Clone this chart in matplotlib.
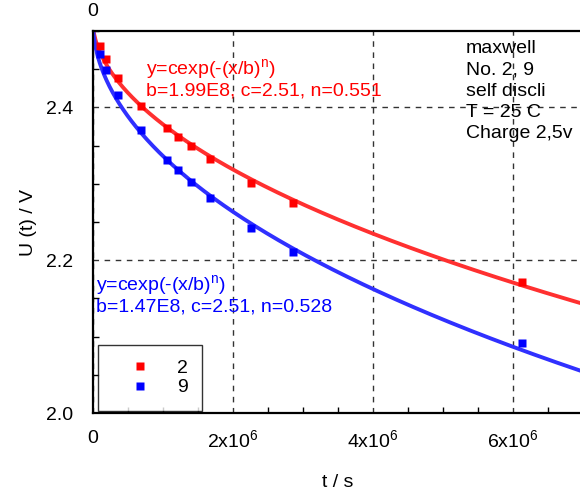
import numpy as np
import matplotlib
matplotlib.use('Agg')
import matplotlib.pyplot as plt
from matplotlib.ticker import MultipleLocator, FixedLocator, FuncFormatter

plt.rcParams['font.family'] = ['Liberation Sans', 'DejaVu Sans']
plt.rcParams['mathtext.default'] = 'regular'

# measured points (t in s, U in V)
t_2 = [0.096e6, 0.19e6, 0.357e6, 0.69e6, 1.053e6, 1.214e6, 1.404e6, 1.676e6, 2.253e6, 2.861e6, 6.133e6]
u_2 = [2.480, 2.463, 2.438, 2.402, 2.373, 2.361, 2.349, 2.333, 2.301, 2.275, 2.171]
t_9 = [0.096e6, 0.19e6, 0.357e6, 0.69e6, 1.053e6, 1.214e6, 1.404e6, 1.676e6, 2.253e6, 2.861e6, 6.133e6]
u_9 = [2.470, 2.449, 2.416, 2.370, 2.331, 2.318, 2.302, 2.282, 2.242, 2.211, 2.092]

# stretched exponential fit parameters shown on the chart
fit_2 = dict(b=1.99e8, c=2.51, n=0.551)
fit_9 = dict(b=1.47e8, c=2.51, n=0.528)

def kww(x, b, c, n):
    return c * np.exp(-(x / b) ** n)

FS = 14

fig = plt.figure(figsize=(5.80, 4.99), dpi=100)
ax = fig.add_axes([93 / 580, 86 / 499, 490 / 580, 382 / 499])

xs = np.linspace(0, 7e6, 800)
ax.plot(xs, kww(xs, **fit_2), color='#ff3030', lw=2.8, zorder=2)
ax.plot(xs, kww(xs, **fit_9), color='#3030ff', lw=2.8, zorder=2)
ax.plot(t_2, u_2, 's', color='#ff0000', ms=5.5, mec='none', label='2', zorder=3)
ax.plot(t_9, u_9, 's', color='#0000ff', ms=5.5, mec='none', label='9', zorder=3)

ax.set_xlim(0, 7e6)
ax.set_ylim(2.0, 2.5)

ax.xaxis.set_major_locator(FixedLocator([0, 2e6, 4e6, 6e6]))
ax.xaxis.set_minor_locator(MultipleLocator(0.5e6))
ax.xaxis.set_major_formatter(FuncFormatter(
    lambda v, p: '0' if v == 0 else '%dx10$^{6}$' % round(v / 1e6)))
ax.yaxis.set_major_locator(FixedLocator([2.0, 2.2, 2.4]))
ax.yaxis.set_minor_locator(MultipleLocator(0.05))
ax.yaxis.set_major_formatter(FuncFormatter(lambda v, p: '%.1f' % v))

ax.tick_params(which='both', direction='in', labelsize=FS, width=1, colors='black')
ax.tick_params(which='major', length=0, pad=12)
ax.tick_params(which='minor', length=4)
ax.tick_params(axis='y', which='major', pad=14)

ax.grid(True, which='major', color='#333333', ls=(0, (4, 4)), lw=1)
for s in ax.spines.values():
    s.set_linewidth(1.6)

ax.set_xlabel('t / s', fontsize=FS, labelpad=16)
ax.set_ylabel('U (t) / V', fontsize=FS, labelpad=7)

ax.text(0, 2.5 + 0.026, '0', fontsize=FS, ha='center', va='center', transform=ax.transData, clip_on=False)

ax.text(146 / 580, 1 - 57 / 499, 'y=cexp(-(x/b)$^{n}$)\nb=1.99E8, c=2.51, n=0.551',
        transform=fig.transFigure, color='#ff0000', fontsize=FS, va='top', linespacing=1.1)
ax.text(96 / 580, 1 - 273 / 499, 'y=cexp(-(x/b)$^{n}$)\nb=1.47E8, c=2.51, n=0.528',
        transform=fig.transFigure, color='#0000ff', fontsize=FS, va='top', linespacing=1.1)
ax.text(466 / 580, 1 - 40 / 499, 'maxwell\nNo. 2, 9\nself discli\nT = 25 C\nCharge 2,5v',
        transform=fig.transFigure, color='black', fontsize=FS, va='top', linespacing=1.33)

leg = ax.legend(loc='lower left', bbox_to_anchor=(0.006, 0.0), fontsize=FS,
                frameon=True, fancybox=False, handlelength=2.8, handletextpad=0.5,
                borderpad=0.75, labelspacing=0.1, borderaxespad=0.1)
leg.get_frame().set_edgecolor('black')
leg.get_frame().set_linewidth(1)

fig.savefig('out.png', dpi=100)
